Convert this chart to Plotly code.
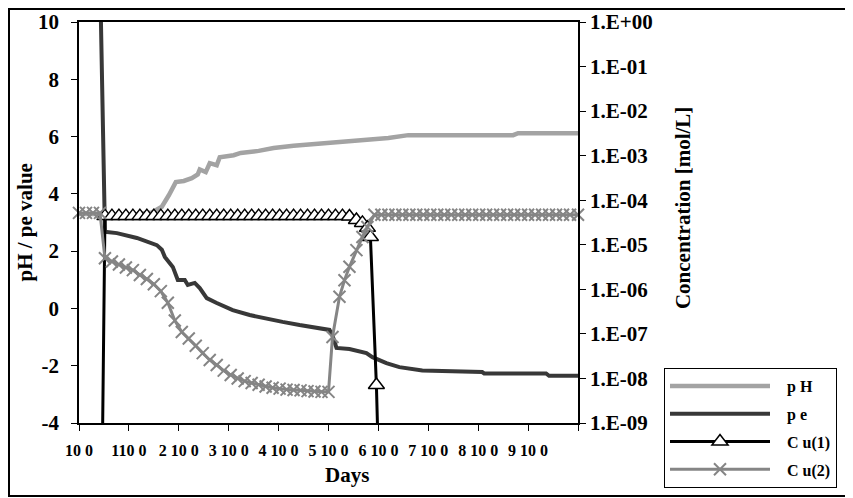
import plotly.graph_objects as go

# x axis ticks (days)
tick_days = [100, 1100, 2100, 3100, 4100, 5100, 6100, 7100, 8100, 9100, 10100]
tick_text = ["10 0", "110 0", "2 10 0", "3 10 0", "4 10 0", "5 10 0",
             "6 10 0", "7 10 0", "8 10 0", "9 10 0", ""]

# left axis ticks (pH / pe)
left_ticks = [-4, -2, 0, 2, 4, 6, 8, 10]
left_text = ["-4", "-2", "0", "2", "4", "6", "8", "10"]

conc_ticks = [1e0, 1e-1, 1e-2, 1e-3, 1e-4, 1e-5, 1e-6, 1e-7, 1e-8, 1e-9]
conc_text = ["1.E+00", "1.E-01", "1.E-02", "1.E-03", "1.E-04",
             "1.E-05", "1.E-06", "1.E-07", "1.E-08", "1.E-09"]

# pH (left axis)
ph_days = [100, 520, 620, 1100, 1560, 1760, 1900, 2040, 2200, 2360, 2480, 2520,
           2640, 2720, 2860, 2920, 3200, 3340, 3700, 4000, 4400, 4800, 5200,
           5700, 6300, 6700, 8800, 8900, 10100]
ph_vals = [3.3, 3.3, 3.2, 3.25, 3.35, 3.55, 3.95, 4.41, 4.45, 4.55, 4.68, 4.85,
           4.76, 5.07, 5.0, 5.28, 5.35, 5.43, 5.5, 5.6, 5.68, 5.74, 5.81,
           5.88, 5.95, 6.05, 6.05, 6.12, 6.12]

# pe (left axis)
pe_days = [520, 620, 660, 860, 1260, 1660, 1760, 1820, 1920, 1980, 2080, 2220,
           2280, 2420, 2520, 2580, 2660, 2860, 3180, 3520, 3860, 4180, 4520,
           4860, 5120, 5180, 5260, 5520, 5860, 5980, 6260, 6520, 6680, 6980,
           8180, 8220, 9460, 9520, 10100]
pe_vals = [11.8, 2.67, 2.67, 2.63, 2.46, 2.21, 2.05, 1.8, 1.58, 1.45, 0.99, 0.99,
           0.82, 0.89, 0.71, 0.54, 0.36, 0.19, -0.06, -0.23, -0.37, -0.47, -0.58,
           -0.68, -0.75, -0.95, -1.38, -1.42, -1.56, -1.70, -1.91, -2.05, -2.08, -2.17,
           -2.22, -2.27, -2.27, -2.35, -2.35]

# Cu(1) concentration (right axis, mol/L)
cu1_days = [520, 620, 760, 900, 1040, 1180, 1320, 1460, 1600, 1740, 1880, 2020,
            2160, 2300, 2440, 2580, 2720, 2860, 3000, 3140, 3280, 3420, 3560,
            3700, 3840, 3980, 4120, 4260, 4400, 4540, 4680, 4820, 4960, 5100,
            5240, 5380, 5520, 5660, 5780, 5880, 5940, 6060, 6200]
cu1_vals = [2.5e-15, 4.4e-5, 4.4e-5, 4.4e-5, 4.4e-5, 4.4e-5, 4.4e-5, 4.4e-5, 4.4e-5,
            4.4e-5, 4.4e-5, 4.4e-5, 4.4e-5, 4.4e-5, 4.4e-5, 4.4e-5, 4.4e-5, 4.4e-5,
            4.4e-5, 4.4e-5, 4.4e-5, 4.4e-5, 4.4e-5, 4.4e-5, 4.4e-5, 4.4e-5, 4.4e-5,
            4.4e-5, 4.4e-5, 4.4e-5, 4.4e-5, 4.4e-5, 4.4e-5, 4.4e-5, 4.4e-5, 4.4e-5,
            4.3e-5, 3.6e-5, 3.1e-5, 2.4e-5, 1.5e-5, 7.1e-9, 1e-14]

# Cu(2) concentration (right axis, mol/L)
cu2_days = [100, 240, 380, 520, 620, 760, 900, 1040, 1180, 1320, 1460, 1600, 1740,
            1880, 2020, 2160, 2300, 2440, 2580, 2720, 2860, 3000, 3140, 3280, 3420,
            3560, 3700, 3840, 3980, 4120, 4260, 4400, 4540, 4680, 4820, 4960, 5100,
            5180, 5320, 5420, 5520, 5660, 5780, 5880, 6020, 6160, 6300, 6440, 6580,
            6720, 6860, 7000, 7140, 7280, 7420, 7560, 7700, 7840, 7980, 8120, 8260,
            8400, 8540, 8680, 8820, 8960, 9100, 9240, 9380, 9520, 9660, 9800, 9940,
            10100]
cu2_vals = [5.2e-5, 5.2e-5, 5.2e-5, 5.2e-5, 5.0e-6, 4.2e-6, 3.6e-6, 3.1e-6, 2.7e-6,
            2.1e-6, 1.7e-6, 1.3e-6, 9.1e-7, 5.0e-7, 2.0e-7, 1.1e-7, 7.9e-8, 5.4e-8,
            3.7e-8, 2.6e-8, 2.0e-8, 1.5e-8, 1.2e-8, 1.0e-8, 8.7e-9, 7.9e-9, 7.2e-9,
            6.6e-9, 6.2e-9, 5.9e-9, 5.6e-9, 5.5e-9, 5.4e-9, 5.2e-9, 5.1e-9, 5.0e-9,
            5.0e-9, 8.5e-8, 6.8e-7, 1.6e-6, 3.2e-6, 7.6e-6, 1.5e-5, 2.5e-5, 4.7e-5,
            4.7e-5, 4.7e-5, 4.7e-5, 4.7e-5, 4.7e-5, 4.7e-5, 4.7e-5, 4.7e-5, 4.7e-5,
            4.7e-5, 4.7e-5, 4.7e-5, 4.7e-5, 4.7e-5, 4.7e-5, 4.7e-5, 4.7e-5, 4.7e-5,
            4.7e-5, 4.7e-5, 4.7e-5, 4.7e-5, 4.7e-5, 4.7e-5, 4.7e-5, 4.7e-5, 4.7e-5,
            4.7e-5, 4.7e-5]

FONT = "Liberation Serif, Times New Roman, serif"
NB = "\u00a0\u00a0\u00a0"  # small gap between legend symbol and label

fig = go.Figure()
fig.add_trace(go.Scatter(x=ph_days, y=ph_vals, name=NB + "p H", mode="lines",
                         legendgroup="a",
                         line=dict(color="#a3a3a3", width=4.5)))
fig.add_trace(go.Scatter(x=pe_days, y=pe_vals, name=NB + "p e", mode="lines",
                         legendgroup="b",
                         line=dict(color="#383838", width=4)))
fig.add_trace(go.Scatter(x=cu1_days, y=cu1_vals, name=NB + "C u(1)", yaxis="y2",
                         mode="lines+markers", legendgroup="c",
                         line=dict(color="black", width=3),
                         marker=dict(symbol="triangle-up", size=14, color="white",
                                     line=dict(color="black", width=1.5))))
fig.add_trace(go.Scatter(x=cu2_days, y=cu2_vals, name=NB + "C u(2)", yaxis="y2",
                         mode="lines+markers", cliponaxis=False, legendgroup="d",
                         line=dict(color="#858585", width=3),
                         marker=dict(symbol="x-thin", size=12,
                                     line=dict(color="#858585", width=2))))

tick_font = dict(family=FONT, size=21, color="black", weight="bold")

# the page puts the figure 8px in from the top-left corner
fig.update_layout(
    width=845, height=490,
    margin=dict(l=71, r=275, t=14, b=75),
    paper_bgcolor="white", plot_bgcolor="white",
    font=dict(family=FONT, color="black"),
    xaxis=dict(range=[100, 10100], tickvals=tick_days, ticktext=tick_text,
               tickfont=dict(family=FONT, size=16, color="black", weight="bold"),
               ticks="outside", ticklen=6, tickcolor="black", ticklabelstandoff=6,
               showline=True, linecolor="black", linewidth=1.5, mirror=True,
               showgrid=False, zeroline=False, automargin=False),
    yaxis=dict(range=[-4, 10], tickvals=left_ticks, ticktext=left_text,
               tickfont=tick_font,
               ticks="outside", ticklen=6, tickcolor="black", ticklabelstandoff=8,
               showline=True, linecolor="black", linewidth=1.5,
               showgrid=False, zeroline=False, automargin=False),
    yaxis2=dict(type="log", range=[-9, 0], overlaying="y", side="right",
                tickvals=conc_ticks, ticktext=conc_text, tickfont=tick_font,
                ticks="outside", ticklen=6, tickcolor="black", ticklabelstandoff=0,
                showline=True, linecolor="black", linewidth=1.5,
                showgrid=False, zeroline=False, automargin=False),
    showlegend=True,
    legend=dict(xref="container", yref="container",
                x=(664 - 8) / 845, y=1 - (368 - 8) / 490, xanchor="left", yanchor="top",
                bgcolor="white", bordercolor="black", borderwidth=1,
                itemwidth=100, tracegroupgap=4,
                font=dict(family=FONT, size=16, color="black", weight="bold")),
)

title_font = dict(family=FONT, size=21, color="black", weight="bold")
fig.add_annotation(text="pH / pe value", xref="paper", yref="paper",
                   x=(24 - 79) / 499, y=0.5, textangle=-90, showarrow=False,
                   xanchor="center", yanchor="middle", font=title_font)
fig.add_annotation(text="Concentration [mol/L]", xref="paper", yref="paper",
                   x=(683 - 79) / 499, y=0.536, textangle=-90, showarrow=False,
                   xanchor="center", yanchor="middle", font=title_font)
fig.add_annotation(text="Days", xref="paper", yref="paper",
                   x=(347 - 79) / 499, y=-0.130, showarrow=False,
                   xanchor="center", yanchor="middle", font=title_font)

# outer chart border
fig.add_shape(type="rect", xref="paper", yref="paper",
              x0=(9 - 79) / 499, x1=(851 - 79) / 499,
              y0=(423 - 496) / 401, y1=(423 - 9) / 401,
              line=dict(color="black", width=2), layer="below")

fig.write_html("out.html")
